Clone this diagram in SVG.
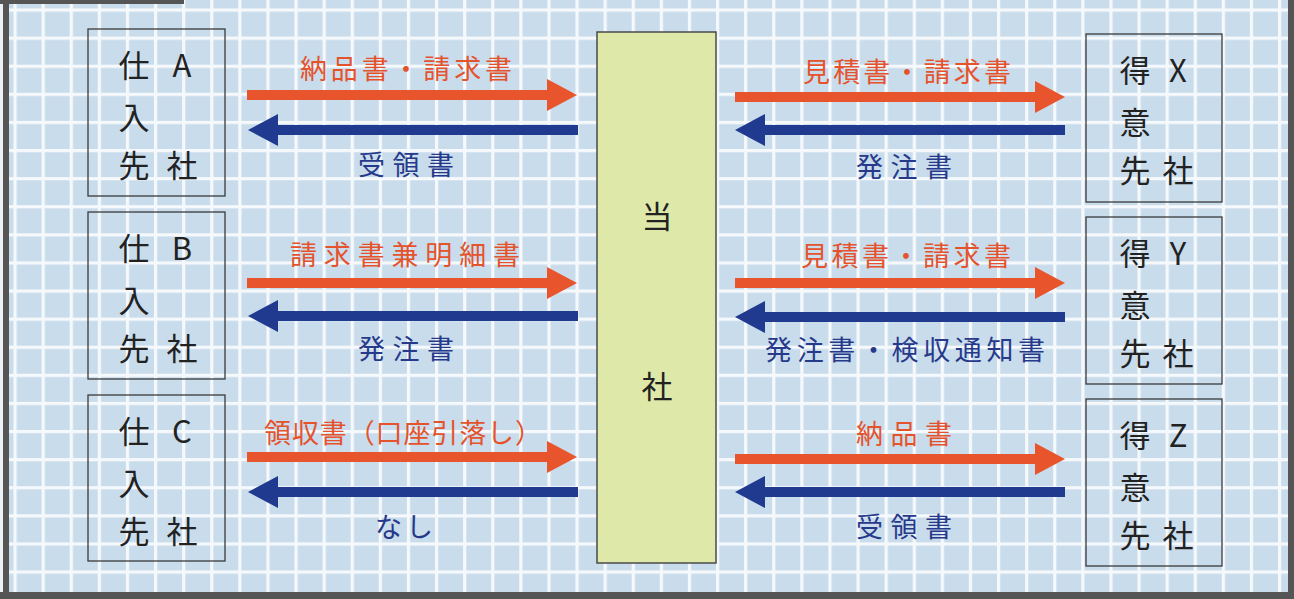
<svg xmlns="http://www.w3.org/2000/svg" width="1294" height="599" viewBox="0 0 1294 599">
<style>
.box{fill:none;stroke:#3a3a3a;stroke-width:1.3}
.cbox{fill:#dee8a8;stroke:#4a4a4a;stroke-width:1.5}
.bt{font-family:"Noto Sans CJK JP","Noto Sans",sans-serif;font-size:31px;fill:#222;text-anchor:middle;dominant-baseline:central}
.lr{font-family:"Noto Sans CJK JP","Noto Sans",sans-serif;font-size:27px;fill:#e4532c;dominant-baseline:central}
.lb{font-family:"Noto Sans CJK JP","Noto Sans",sans-serif;font-size:27px;fill:#26398a;dominant-baseline:central}
.ar{stroke:#e8542c;stroke-width:10;marker-end:url(#hr)}
.ab{stroke:#1f3a8f;stroke-width:10;marker-end:url(#hb)}
.frame{fill:#555}
</style>
<defs>
<pattern id="grid" patternUnits="userSpaceOnUse" x="13.5" y="8.5" width="28.1" height="28.1">
<rect width="28.1" height="28.1" fill="#c9dcec"/>
<rect width="3.2" height="28.1" fill="#f6f9fc"/>
<rect width="28.1" height="3.2" fill="#f6f9fc"/>
</pattern>
<marker id="hr" markerUnits="userSpaceOnUse" markerWidth="30" markerHeight="32" refX="0" refY="16" orient="auto">
<path d="M0,0 L30,16 L0,32 Z" fill="#e8542c"/>
</marker>
<marker id="hb" markerUnits="userSpaceOnUse" markerWidth="30" markerHeight="32" refX="0" refY="16" orient="auto">
<path d="M0,0 L30,16 L0,32 Z" fill="#1f3a8f"/>
</marker>
</defs>
<rect width="1294" height="599" fill="#eef2f6"/>
<rect x="9" y="0" width="1280" height="592" fill="url(#grid)"/>
<g id="frame">
<rect class="frame" x="0" y="0" width="184" height="4"/>
<rect class="frame" x="3" y="0" width="6" height="599"/>
<rect class="frame" x="0" y="592" width="1294" height="7"/>
<rect class="frame" x="1288" y="0" width="6" height="599"/>
</g>
<g id="supplierA">
<rect class="box" x="88" y="29" width="137" height="167"/>
<text class="bt" x="134" y="63">仕</text><text class="bt" x="182" y="63">A</text>
<text class="bt" x="134" y="115">入</text>
<text class="bt" x="134" y="163">先</text><text class="bt" x="182" y="163">社</text>
</g>
<g id="supplierB">
<rect class="box" x="88" y="212" width="137" height="167"/>
<text class="bt" x="134" y="246">仕</text><text class="bt" x="182" y="246">B</text>
<text class="bt" x="134" y="298">入</text>
<text class="bt" x="134" y="346">先</text><text class="bt" x="182" y="346">社</text>
</g>
<g id="supplierC">
<rect class="box" x="88" y="395" width="137" height="166"/>
<text class="bt" x="134" y="429">仕</text><text class="bt" x="182" y="429">C</text>
<text class="bt" x="134" y="481">入</text>
<text class="bt" x="134" y="529">先</text><text class="bt" x="182" y="529">社</text>
</g>
<g id="company">
<rect class="cbox" x="597" y="32" width="119" height="531"/>
<text class="bt" x="657" y="214">当</text>
<text class="bt" x="657" y="384">社</text>
</g>
<g id="customerX">
<rect class="box" x="1086" y="34" width="136" height="168"/>
<text class="bt" x="1135" y="68">得</text><text class="bt" x="1178" y="68">X</text>
<text class="bt" x="1135" y="120">意</text>
<text class="bt" x="1135" y="168">先</text><text class="bt" x="1178" y="168">社</text>
</g>
<g id="customerY">
<rect class="box" x="1086" y="217" width="136" height="167"/>
<text class="bt" x="1135" y="251">得</text><text class="bt" x="1178" y="251">Y</text>
<text class="bt" x="1135" y="303">意</text>
<text class="bt" x="1135" y="351">先</text><text class="bt" x="1178" y="351">社</text>
</g>
<g id="customerZ">
<rect class="box" x="1086" y="399" width="136" height="167"/>
<text class="bt" x="1135" y="433">得</text><text class="bt" x="1178" y="433">Z</text>
<text class="bt" x="1135" y="485">意</text>
<text class="bt" x="1135" y="533">先</text><text class="bt" x="1178" y="533">社</text>
</g>
<g id="connectors">
<line class="ar" x1="247" y1="95" x2="547" y2="95"/>
<line class="ab" x1="578" y1="130" x2="278" y2="130"/>
<line class="ar" x1="247" y1="283" x2="547" y2="283"/>
<line class="ab" x1="578" y1="316" x2="278" y2="316"/>
<line class="ar" x1="247" y1="457" x2="547" y2="457"/>
<line class="ab" x1="578" y1="492" x2="278" y2="492"/>
<line class="ar" x1="735" y1="97" x2="1035" y2="97"/>
<line class="ab" x1="1065" y1="130" x2="765" y2="130"/>
<line class="ar" x1="735" y1="283" x2="1035" y2="283"/>
<line class="ab" x1="1065" y1="317" x2="765" y2="317"/>
<line class="ar" x1="735" y1="459" x2="1035" y2="459"/>
<line class="ab" x1="1065" y1="492" x2="765" y2="492"/>
<text class="lr" x="300" y="67" textLength="212" lengthAdjust="spacing">納品書・請求書</text>
<text class="lb" x="358" y="163" textLength="96" lengthAdjust="spacing">受領書</text>
<text class="lr" x="290" y="253" textLength="230" lengthAdjust="spacing">請求書兼明細書</text>
<text class="lb" x="358" y="347" textLength="96" lengthAdjust="spacing">発注書</text>
<text class="lr" x="264" y="431" textLength="278" lengthAdjust="spacing">領収書（口座引落し）</text>
<text class="lb" x="375" y="525" textLength="58" lengthAdjust="spacing">なし</text>
<text class="lr" x="803" y="70" textLength="208" lengthAdjust="spacing">見積書・請求書</text>
<text class="lb" x="856" y="165" textLength="96" lengthAdjust="spacing">発注書</text>
<text class="lr" x="801" y="254" textLength="210" lengthAdjust="spacing">見積書・請求書</text>
<text class="lb" x="765" y="348" textLength="280" lengthAdjust="spacing">発注書・検収通知書</text>
<text class="lr" x="856" y="432" textLength="96" lengthAdjust="spacing">納品書</text>
<text class="lb" x="856" y="525" textLength="96" lengthAdjust="spacing">受領書</text>
</g>
</svg>
